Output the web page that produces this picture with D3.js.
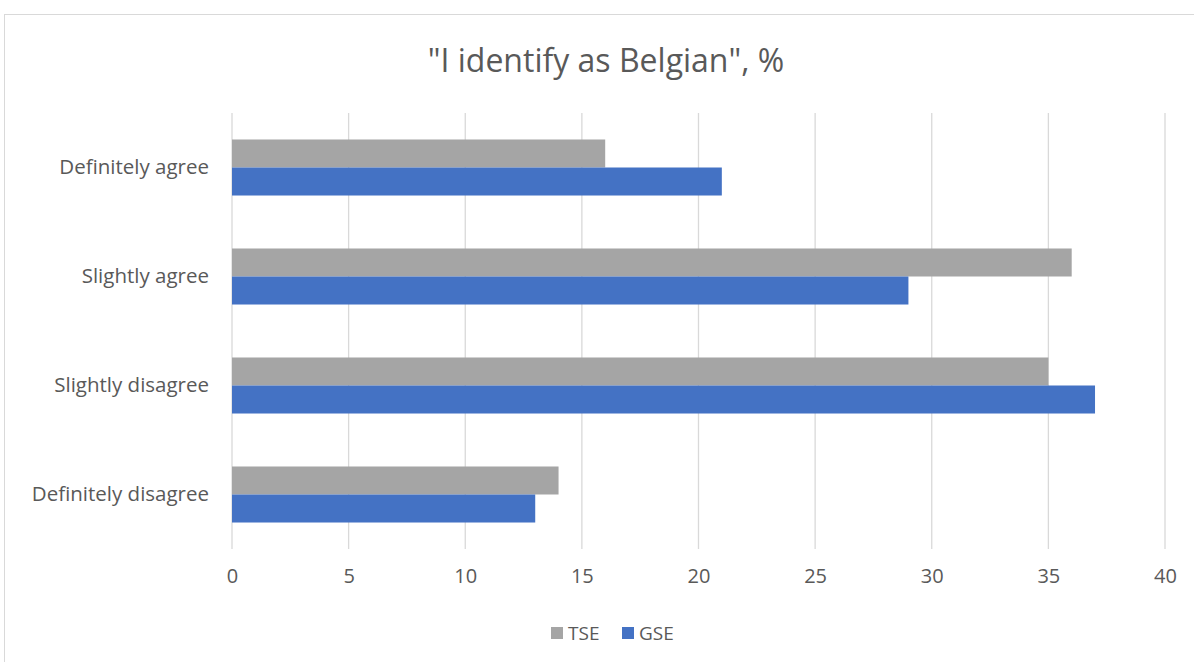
<!DOCTYPE html>
<html>
<head>
  <style>
    body { margin: 0; background: #fff; }
    svg text { font-family: "Open Sans", "Noto Sans", sans-serif; fill: #595959; }
  </style>
</head>
<body>
  <div id="chart"></div>
  <script src="https://d3js.org/d3.v7.min.js"></script>
  <script>
    // Data
    const categories = ["Definitely agree", "Slightly agree", "Slightly disagree", "Definitely disagree"];
    const seriesNames = ["TSE", "GSE"];
    const tseValues = [16, 36, 35, 14];
    const gseValues = [21, 29, 37, 13];
    const xTicks = [0, 5, 10, 15, 20, 25, 30, 35, 40];
    const colors = { TSE: "#A5A5A5", GSE: "#4472C4" };

    const width = 1194, height = 662;
    const svg = d3.select("#chart").append("svg")
      .attr("width", width)
      .attr("height", height);

    // chart frame
    svg.append("rect")
      .attr("x", 4.5).attr("y", 14.5)
      .attr("width", 1200).attr("height", 700)
      .attr("fill", "none")
      .attr("stroke", "#D9D9D9");

    const x = d3.scaleLinear().domain([0, 40]).range([232, 1165]);
    const y = d3.scaleBand().domain(categories).range([113, 549]).paddingInner(0.486).paddingOuter(0.243);
    const ySub = d3.scaleBand().domain(seriesNames).range([0, y.bandwidth()]);

    // gridlines
    svg.append("g")
      .selectAll("line")
      .data(xTicks)
      .join("line")
      .attr("x1", d => x(d)).attr("x2", d => x(d))
      .attr("y1", 113).attr("y2", 549)
      .attr("stroke", "#D9D9D9")
      .attr("stroke-width", 1.3);

    // bars
    const rows = categories.map((c, i) => ({ cat: c, TSE: tseValues[i], GSE: gseValues[i] }));
    const groups = svg.append("g").selectAll("g")
      .data(rows)
      .join("g")
      .attr("transform", d => `translate(0,${y(d.cat)})`);

    groups.selectAll("rect")
      .data(d => seriesNames.map(s => ({ s, v: d[s] })))
      .join("rect")
      .attr("x", x(0))
      .attr("y", d => ySub(d.s))
      .attr("width", d => x(d.v) - x(0))
      .attr("height", ySub.bandwidth())
      .attr("fill", d => colors[d.s]);

    // x axis labels
    const xAxis = d3.axisBottom(x).tickValues(xTicks).tickSize(0).tickPadding(0);
    const gx = svg.append("g")
      .attr("transform", "translate(0,569)")
      .call(xAxis);
    gx.select(".domain").remove();
    gx.selectAll("text")
      .attr("dy", "0.71em")
      .style("font-size", "20px")
      .attr("fill", "#595959");

    // y axis labels
    const yAxis = d3.axisLeft(y).tickSize(0).tickPadding(0);
    const gy = svg.append("g")
      .attr("transform", "translate(209,0)")
      .call(yAxis);
    gy.select(".domain").remove();
    gy.selectAll("text")
      .style("font-size", "20.5px")
      .attr("fill", "#595959");

    // title
    svg.append("text")
      .attr("x", 606)
      .attr("y", 72)
      .attr("text-anchor", "middle")
      .style("font-size", "32px")
      .text('"I identify as Belgian", %');

    // legend
    const legendItems = [{ s: "TSE", x: 551 }, { s: "GSE", x: 622 }];
    const legend = svg.append("g").selectAll("g")
      .data(legendItems)
      .join("g")
      .attr("transform", d => `translate(${d.x},627)`);
    legend.append("rect")
      .attr("width", 12).attr("height", 12)
      .attr("fill", d => colors[d.s]);
    legend.append("text")
      .attr("x", 17).attr("y", 6)
      .attr("dy", "0.35em")
      .style("font-size", "19px")
      .text(d => d.s);
  </script>
</body>
</html>
